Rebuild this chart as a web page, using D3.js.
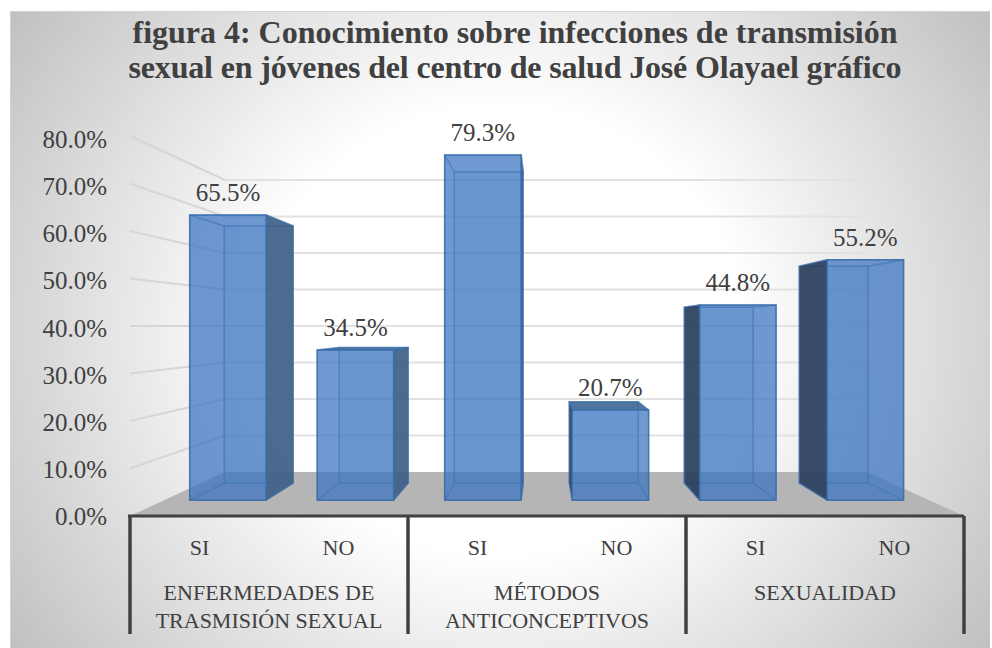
<!DOCTYPE html>
<html>
<head>
<meta charset="utf-8">
<script src="https://cdn.jsdelivr.net/npm/d3@7"></script>
<style>
  body { margin: 0; background: #fff; }
  text { font-family: "Liberation Serif", serif; fill: #404040; }
</style>
</head>
<body>
<div id="grafico"></div>
<script>
var categorias = ["SI", "NO", "SI ", "NO ", "SI  ", "NO  "];
var valores = [65.5, 34.5, 79.3, 20.7, 44.8, 55.2];
var etiquetas = ["65.5%", "34.5%", "79.3%", "20.7%", "44.8%", "55.2%"];
var grupos = [
  ["ENFERMEDADES DE", "TRASMISIÓN SEXUAL"],
  ["MÉTODOS", "ANTICONCEPTIVOS"],
  ["SEXUALIDAD"]
];
var ticks = [0, 10, 20, 30, 40, 50, 60, 70, 80];
var titulo = [
  "figura 4: Conocimiento sobre infecciones de transmisión",
  "sexual en jóvenes del centro de salud José Olayael gráfico"
];

var width = 992, height = 648;

var svg = d3.select("#grafico").append("svg")
  .attr("width", width)
  .attr("height", height)
  .style("display", "block");

var defs = svg.append("defs");
var grad = defs.append("radialGradient")
  .attr("id", "fondo")
  .attr("gradientUnits", "userSpaceOnUse")
  .attr("cx", 0).attr("cy", 0).attr("r", 1)
  .attr("gradientTransform", "translate(500,330) scale(690,640)");
grad.append("stop").attr("offset", "35%").attr("stop-color", "#ffffff");
grad.append("stop").attr("offset", "100%").attr("stop-color", "#b0b0b0");

svg.append("rect")
  .attr("x", 10).attr("y", 11)
  .attr("width", 980).attr("height", 637)
  .attr("fill", "url(#fondo)");
svg.append("path")
  .attr("d", "M10.5,648V11.5H990")
  .attr("fill", "none")
  .attr("stroke", "#d4d4d4");

// plano frontal y plano del fondo
var yFrente = d3.scaleLinear().domain([0, 80]).range([516, 136]);
var yFondo = d3.scaleLinear().domain([0, 80]).range([472, 180]);
var xFrente = d3.scaleLinear().domain([0, 1]).range([130, 964]);
var xFondo = d3.scaleLinear().domain([0, 1]).range([225, 867]);
// las etiquetas del eje no caen justo sobre las lineas
var yTexto = d3.scaleLinear().domain([0, 80]).range([525, 148]);

// profundidad: 0 frente, 1 fondo
function px(u, z) { return xFrente(u) + z * (xFondo(u) - xFrente(u)); }
function py(v, z) { return yFrente(v) + z * (yFondo(v) - yFrente(v)); }

var banda = d3.scaleBand()
  .domain(categorias)
  .range([0, 1])
  .paddingInner(0.4)
  .paddingOuter(0.2);

var z1 = 0.36, z2 = 0.75;

// suelo
svg.append("path")
  .attr("d", d3.line()([
    [xFrente(0), yFrente(0)], [xFondo(0), yFondo(0)],
    [xFondo(1), yFondo(0)], [xFrente(1), yFrente(0)]
  ]) + "Z")
  .attr("fill", "#b5b5b5");

// lineas de division
var lineas = ticks.filter(function(d) { return d > 0; });
svg.selectAll(".pared").data(lineas).enter().append("line")
  .attr("class", "pared")
  .attr("x1", xFrente(0)).attr("x2", xFondo(0))
  .attr("y1", function(d) { return yFrente(d); })
  .attr("y2", function(d) { return yFondo(d); })
  .attr("stroke", "#d6d6d6").attr("stroke-width", 2);
svg.selectAll(".rejilla").data(lineas).enter().append("line")
  .attr("class", "rejilla")
  .attr("x1", xFondo(0)).attr("x2", xFondo(1))
  .attr("y1", function(d) { return yFondo(d); })
  .attr("y2", function(d) { return yFondo(d); })
  .attr("stroke", "#e2e2e2").attr("stroke-width", 2);

// barras
var azul = "#3c75bf", borde = "#3a6ca8";
function cara(g, puntos, fill, opacity, trazo) {
  g.append("path")
    .attr("d", d3.line()(puntos) + "Z")
    .attr("fill", fill)
    .attr("fill-opacity", opacity)
    .attr("stroke", borde)
    .attr("stroke-opacity", trazo)
    .attr("stroke-width", 1.5)
    .attr("stroke-linejoin", "round");
}

categorias.forEach(function(c, i) {
  var v = valores[i];
  var a = banda(c), b = a + banda.bandwidth();
  var g = svg.append("g").attr("class", "barra");
  var fl1 = [px(a, z1), py(0, z1)], fr1 = [px(b, z1), py(0, z1)];
  var tl1 = [px(a, z1), py(v, z1)], tr1 = [px(b, z1), py(v, z1)];
  var fl2 = [px(a, z2), py(0, z2)], fr2 = [px(b, z2), py(0, z2)];
  var tl2 = [px(a, z2), py(v, z2)], tr2 = [px(b, z2), py(v, z2)];

  cara(g, [fl2, fr2, tr2, tl2], azul, 0.15, 0.4);
  cara(g, [fl1, fr1, fr2, fl2], azul, 0.08, 0.3);

  var izqFuera = px(a, z2) < px(a, z1);
  var derFuera = px(b, z2) > px(b, z1);
  if (!izqFuera) cara(g, [fl1, tl1, tl2, fl2], azul, 0.05, 0.3);
  if (!derFuera) cara(g, [fr1, tr1, tr2, fr2], azul, 0.05, 0.3);

  // la tapa solo se ve oscura cuando queda por encima del frente
  if (tl2[1] < tl1[1]) cara(g, [tl1, tr1, tr2, tl2], "#3f6896", 0.9, 0.6);
  else cara(g, [tl1, tr1, tr2, tl2], azul, 0.05, 0.4);

  if (izqFuera) cara(g, [fl1, tl1, tl2, fl2], "#2a3f5c", 0.92, 0.6);
  if (derFuera) cara(g, [fr1, tr1, tr2, fr2], "#3f6088", 0.92, 0.6);

  cara(g, [fl1, fr1, tr1, tl1], azul, 0.72, 0.85);
});

// etiquetas de datos
svg.selectAll(".dato").data(etiquetas).enter().append("text")
  .attr("class", "dato")
  .attr("x", function(d, i) { return px(banda(categorias[i]) + banda.bandwidth() / 2, z1); })
  .attr("y", function(d, i) { return py(valores[i], z1) - 14; })
  .attr("text-anchor", "middle")
  .style("font-size", "25px")
  .text(function(d) { return d; });

// eje vertical
svg.selectAll(".tick-y").data(ticks).enter().append("text")
  .attr("class", "tick-y")
  .attr("x", 107)
  .attr("y", function(d) { return yTexto(d); })
  .attr("text-anchor", "end")
  .style("font-size", "25px")
  .text(function(d) { return d3.format(".1f")(d) + "%"; });

// eje horizontal con dos niveles
svg.append("line")
  .attr("x1", xFrente(0) - 2).attr("x2", xFrente(1))
  .attr("y1", 516).attr("y2", 516)
  .attr("stroke", "#404040").attr("stroke-width", 3);
svg.selectAll(".sep").data(d3.range(grupos.length + 1)).enter().append("line")
  .attr("class", "sep")
  .attr("x1", function(d) { return xFrente(d / grupos.length); })
  .attr("x2", function(d) { return xFrente(d / grupos.length); })
  .attr("y1", 516).attr("y2", 634)
  .attr("stroke", "#404040").attr("stroke-width", 3.5);

svg.selectAll(".cat").data(categorias).enter().append("text")
  .attr("class", "cat")
  .attr("x", function(d) { return xFrente(banda(d) + banda.bandwidth() / 2); })
  .attr("y", 555)
  .attr("text-anchor", "middle")
  .style("font-size", "22px")
  .text(function(d) { return d.trim(); });

grupos.forEach(function(lineasGrupo, i) {
  lineasGrupo.forEach(function(t, j) {
    svg.append("text")
      .attr("x", xFrente((i + 0.5) / grupos.length))
      .attr("y", 600 + j * 28)
      .attr("text-anchor", "middle")
      .style("font-size", "22px")
      .text(t);
  });
});

// titulo
var anchoTitulo = [765, 773];
titulo.forEach(function(t, i) {
  svg.append("text")
    .attr("x", 515)
    .attr("y", 43 + i * 35)
    .attr("text-anchor", "middle")
    .attr("textLength", anchoTitulo[i])
    .attr("lengthAdjust", "spacing")
    .style("font-size", "32px")
    .style("font-weight", "bold")
    .text(t);
});
</script>
</body>
</html>
